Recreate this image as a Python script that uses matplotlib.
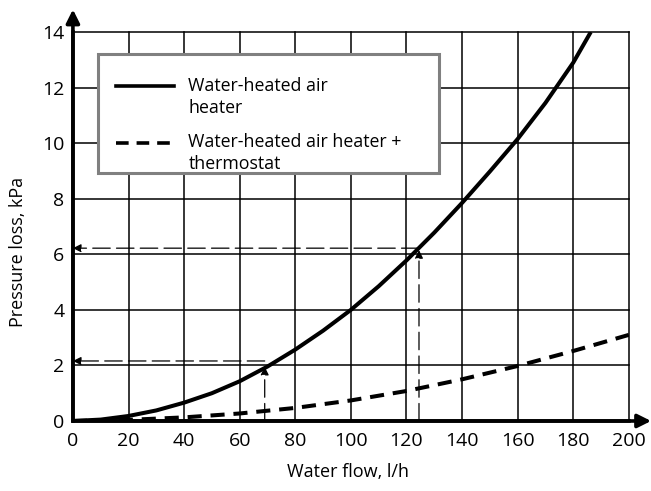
import matplotlib.pyplot as plt
from matplotlib.patches import Rectangle

plt.rcParams["font.family"] = ["Open Sans", "DejaVu Sans"]

# water flow (l/h) vs pressure loss (kPa)
flow_heater = [0, 10, 20, 30, 40, 50, 60, 70, 80, 90, 100, 110, 120, 130, 140, 150, 160, 170, 180, 186.3]
loss_heater = [0, 0.05, 0.18, 0.38, 0.66, 1.0, 1.43, 1.96, 2.57, 3.25, 4.0, 4.85, 5.78, 6.78, 7.85, 8.98, 10.15, 11.45, 12.9, 14.0]

flow_thermo = [0, 20, 40, 60, 80, 100, 120, 140, 160, 180, 200]
loss_thermo = [0, 0.04, 0.13, 0.27, 0.47, 0.74, 1.08, 1.5, 1.98, 2.52, 3.1]

# read-off examples: (flow, arrow tip on curve, read value)
readoffs = [(69, 1.95, 2.16), (124.5, 6.15, 6.22)]

x_ticks = list(range(0, 201, 20))
y_ticks = list(range(0, 15, 2))

legend_labels = ["Water-heated air\nheater", "Water-heated air heater +\nthermostat"]

fig = plt.figure(figsize=(6.51, 4.91), dpi=100)
ax = fig.add_axes([0.112, 0.1426, 0.854, 0.7922])
ax.set_xlim(0, 200)
ax.set_ylim(0, 14)

for xv in x_ticks[1:]:
    ax.axvline(xv, color="black", lw=1.1, clip_on=False, zorder=1)
for yv in y_ticks[1:]:
    ax.axhline(yv, color="black", lw=1.1, clip_on=False, zorder=1)

ax.plot(flow_heater, loss_heater, color="black", lw=2.9, zorder=3, solid_capstyle="butt")
ax.plot(flow_thermo, loss_thermo, color="black", lw=2.9, ls=(0, (3.5, 2.2)), zorder=3)

dash_arrow = dict(arrowstyle="-|>", color="black", lw=0.9, ls=(0, (14, 5)),
                  mutation_scale=12, shrinkA=0, shrinkB=0)
for fx, tip, val in readoffs:
    ax.annotate("", xy=(fx, tip), xytext=(fx, 0), arrowprops=dash_arrow, zorder=4)
    ax.annotate("", xy=(0, val), xytext=(fx, val), arrowprops=dash_arrow, zorder=4)

for s in ["top", "right"]:
    ax.spines[s].set_visible(False)
for s in ["left", "bottom"]:
    ax.spines[s].set_linewidth(2.6)
    ax.spines[s].set_zorder(5)

# axis arrows
arrow_kw = dict(arrowstyle="-|>", color="black", lw=2.6, mutation_scale=20, shrinkA=0, shrinkB=0)
ax.annotate("", xy=(1.04, 0), xytext=(0, 0), xycoords="axes fraction",
            arrowprops=arrow_kw, annotation_clip=False)
ax.annotate("", xy=(0, 1.058), xytext=(0, 0), xycoords="axes fraction",
            arrowprops=arrow_kw, annotation_clip=False)

ax.set_xticks(x_ticks)
ax.set_yticks(y_ticks)
ax.tick_params(length=0, labelsize=14)
ax.tick_params(axis="x", pad=8)
ax.tick_params(axis="y", pad=6)
ax.set_xlabel("Water flow, l/h", fontsize=13)
ax.set_ylabel("Pressure loss, kPa", fontsize=13)
ax.xaxis.set_label_coords(0.494, -0.131)
ax.yaxis.set_label_coords(-0.099, 0.435)
ax.xaxis.label.set_va("center")
ax.yaxis.label.set_va("center")

# legend box drawn by hand
ax.add_patch(Rectangle((9, 8.92), 122.7, 4.28, facecolor="white", edgecolor="#808080",
                       lw=2.2, zorder=6))
ax.plot([15.5, 36.5], [12.06, 12.06], color="black", lw=2.6, zorder=7)
ax.plot([15.5, 36.5], [10.0, 10.0], color="black", lw=2.6, ls=(0, (3.5, 2.2)), zorder=7)
line_step = 0.79
for label, base in zip(legend_labels, [11.88, 9.86]):
    for i, part in enumerate(label.split("\n")):
        ax.text(41.5, base - i * line_step, part, fontsize=12.8, va="baseline",
                ha="left", zorder=7)

fig.savefig("out.png", dpi=100)
